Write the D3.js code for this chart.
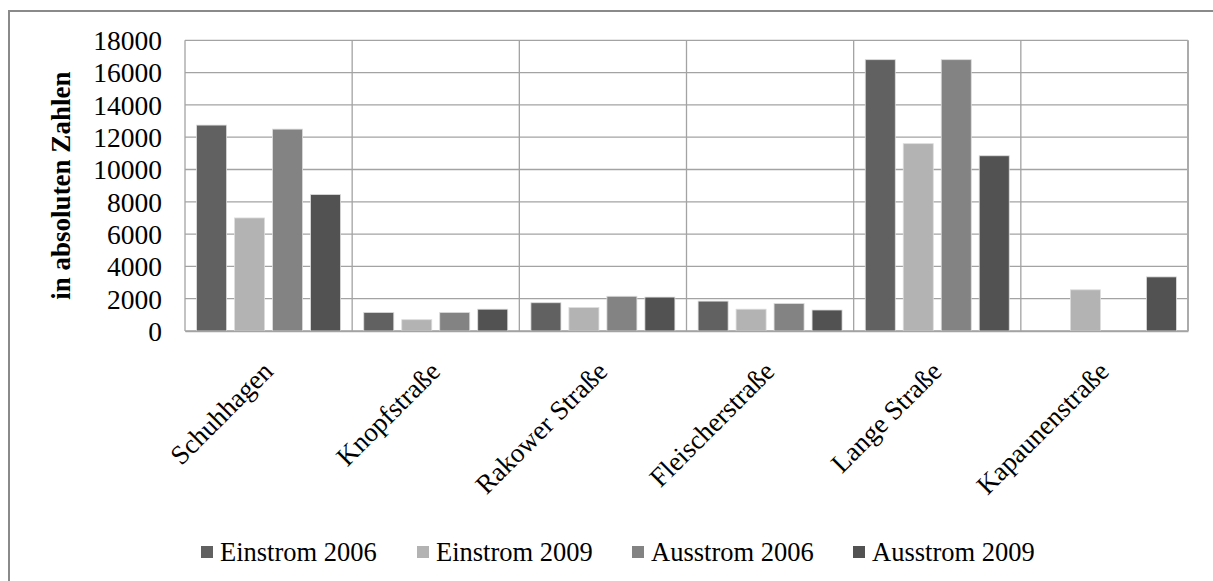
<!DOCTYPE html>
<html><head><meta charset="utf-8">
<script src="https://cdn.jsdelivr.net/npm/d3@7/dist/d3.min.js"></script>
<style>body{margin:0;background:#fff}svg{display:block}</style>
</head><body><svg id="c" width="1213" height="581"></svg>
<script>
const categories = ["Schuhhagen","Knopfstraße","Rakower Straße","Fleischerstraße","Lange Straße","Kapaunenstraße"];
const seriesNames = ["Einstrom 2006","Einstrom 2009","Ausstrom 2006","Ausstrom 2009"];
const einstrom2006 = [12750, 1150, 1750, 1850, 16800, 0];
const einstrom2009 = [7000, 700, 1450, 1350, 11600, 2550];
const ausstrom2006 = [12500, 1150, 2150, 1700, 16800, 0];
const ausstrom2009 = [8450, 1350, 2100, 1300, 10850, 3350];
const yTicks = [0,2000,4000,6000,8000,10000,12000,14000,16000,18000];
const colors = ["#616161","#b3b3b3","#838383","#525252"];
const seriesValues = [einstrom2006, einstrom2009, ausstrom2006, ausstrom2009];

const svg = d3.select("#c");
const font = "'Liberation Serif','Times New Roman',serif";
const L = 185, R = 1188, T = 40.3, B = 331;

// outer frame
svg.append("rect").attr("x",9).attr("y",11).attr("width",1300).attr("height",700)
  .attr("fill","none").attr("stroke","#8a8a8a").attr("stroke-width",2);

const x0 = d3.scaleBand().domain(categories).range([L,R]).padding(0);
const pad = 11.6;
const x1 = d3.scaleBand().domain(seriesNames).range([pad, x0.bandwidth()-pad]).paddingInner(0.21);
const y = d3.scaleLinear().domain([0,18000]).range([B,T]);

// horizontal gridlines
svg.append("g").selectAll("line").data(yTicks).join("line")
  .attr("x1",L).attr("x2",R).attr("y1",d=>y(d)).attr("y2",d=>y(d))
  .attr("stroke","#a3a3a3").attr("stroke-width",1.3);
// vertical separators
svg.append("g").selectAll("line").data(categories).join("line")
  .attr("x1",d=>x0(d)).attr("x2",d=>x0(d)).attr("y1",T).attr("y2",B)
  .attr("stroke","#a3a3a3").attr("stroke-width",1.3);
svg.append("line").attr("x1",R).attr("x2",R).attr("y1",T).attr("y2",B)
  .attr("stroke","#ababab").attr("stroke-width",2);

// bars
const data = [];
categories.forEach((c,i)=>seriesNames.forEach((s,j)=>data.push({c,s,j,v:seriesValues[j][i]})));
svg.append("g").selectAll("rect").data(data.filter(d=>d.v>0)).join("rect")
  .attr("x",d=>x0(d.c)+x1(d.s)).attr("width",x1.bandwidth())
  .attr("y",d=>y(d.v)).attr("height",d=>y(0)-y(d.v))
  .attr("fill",d=>colors[d.j]).attr("stroke","#dcdcdc").attr("stroke-width",0.8);

// y axis
const yAxis = d3.axisLeft(y).tickValues(yTicks).tickSize(0).tickPadding(23).tickFormat(d3.format("d"));
const ga = svg.append("g").attr("transform",`translate(${L},0)`).call(yAxis);
ga.select(".domain").remove();
ga.selectAll("text").attr("font-family",font).attr("font-size",27.5).attr("fill","#000").attr("dy","0.34em");

// x axis labels
const xAxis = d3.axisBottom(x0).tickSize(0).tickPadding(0);
const gx = svg.append("g").attr("transform",`translate(0,${B})`).call(xAxis);
gx.select(".domain").attr("stroke","#a3a3a3").attr("stroke-width",1.3);
gx.selectAll("text").attr("font-family",font).attr("font-size",27).attr("fill","#000")
  .attr("text-anchor","end").attr("dy",0).attr("y",0)
  .attr("transform","translate(6,42) rotate(-45)");

// y title
svg.append("text").attr("transform",`translate(70,${(T+B)/2}) rotate(-90)`)
  .attr("text-anchor","middle").attr("font-family",font).attr("font-weight","bold")
  .attr("font-size",27).text("in absoluten Zahlen");

// legend
const legX = [201, 417, 632, 853];
const lg = svg.append("g").selectAll("g").data(seriesNames).join("g")
  .attr("transform",(d,i)=>`translate(${legX[i]},0)`);
lg.append("rect").attr("x",0).attr("y",546).attr("width",12).attr("height",12).attr("fill",(d,i)=>colors[i]);
lg.append("text").attr("x",19).attr("y",561).attr("font-family",font).attr("font-size",26.5).text(d=>d);
</script></body></html>
